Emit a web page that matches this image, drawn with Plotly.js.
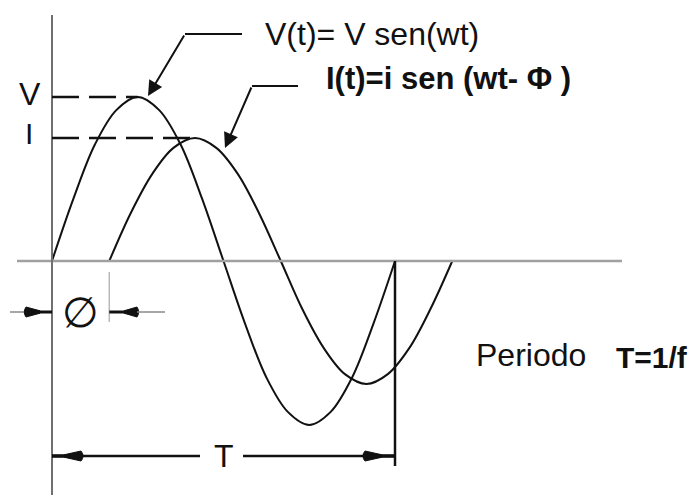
<!DOCTYPE html>
<html><head><meta charset="utf-8">
<script src="https://cdn.plot.ly/plotly-3.0.1.min.js"></script>
<style>html,body{margin:0;padding:0;background:#fff}#chart{width:700px;height:495px}</style>
</head><body><div id="chart"></div>
<script>
// ---- data ----
const seriesNames = ['V(t)= V sen(wt)', 'I(t)=i sen (wt- \u03A6 )'];
const levelLabels = ['V', 'I'];
const periodLabel = 'Periodo';
const periodFormula = 'T=1/f';
const phaseLabel = '\u2205';
const periodSymbol = 'T';
// time in periods, values in units of V
const tV = [0, 0.0625, 0.125, 0.1875, 0.25, 0.3125, 0.375, 0.4375, 0.5, 0.5625, 0.625, 0.6875, 0.75, 0.8125, 0.875, 0.9375, 1.0];
const vV = [0, 0.38, 0.71, 0.92, 1.00, 0.92, 0.71, 0.38, 0, -0.38, -0.71, -0.92, -1.00, -0.92, -0.71, -0.38, 0];
const tI = [0.167, 0.229, 0.292, 0.354, 0.417, 0.479, 0.542, 0.604, 0.667, 0.729, 0.792, 0.854, 0.917, 0.979, 1.042, 1.104, 1.167];
const vI = [0, 0.29, 0.53, 0.69, 0.75, 0.69, 0.53, 0.29, 0, -0.29, -0.53, -0.69, -0.75, -0.69, -0.53, -0.29, 0];
const amplitudes = [1.00, 0.75];
const peakTimes = [0.25, 0.417];
const phaseShift = 0.167;
const period = 1.0;

// ---- pixel <-> data helpers (layout only) ----
const X0 = 52, SX = 343, Y0 = 261, SY = 164;
const px = p => (p - X0) / SX;
const py = p => (Y0 - p) / SY;

const INK = '#111111';
const FONT = 'Liberation Sans, Arial, sans-serif';

const traces = [
  {x: tV, y: vV, name: seriesNames[0], mode: 'lines', line: {color: INK, width: 2, shape: 'spline', smoothing: 1}, hoverinfo: 'skip'},
  {x: tI, y: vI, name: seriesNames[1], mode: 'lines', line: {color: INK, width: 2, shape: 'spline', smoothing: 1}, hoverinfo: 'skip'}
];

function seg(x0, y0, x1, y1, color, width, dash) {
  return {type: 'line', xref: 'x', yref: 'y', x0: x0, y0: y0, x1: x1, y1: y1,
          line: {color: color, width: width, dash: dash || 'solid'}, layer: 'above'};
}
// filled arrowhead: base centred at pixel (bx, byp), tip at pixel (tx, byp)
function head(bx, tx, byp, half) {
  const p = 'M ' + px(bx) + ',' + py(byp - half) +
            ' Q ' + px(bx - (tx - bx) * 0.25) + ',' + py(byp) + ' ' + px(bx) + ',' + py(byp + half) +
            ' L ' + px(tx) + ',' + py(byp + 1.2) + ' L ' + px(tx) + ',' + py(byp - 1.2) + ' Z';
  return {type: 'path', xref: 'x', yref: 'y', path: p, fillcolor: INK, line: {color: INK, width: 1}, layer: 'above'};
}

const yPhiP = 312, yTP = 456;
const yPhi = py(yPhiP), yT = py(yTP);
const shapes = [
  // zero line
  seg(px(17), 0, px(622), 0, '#a0a0a0', 2.5),
  // vertical axis
  seg(0, py(15), 0, py(495), '#707070', 2),
  // level dashed lines
  seg(0, amplitudes[0], peakTimes[0], amplitudes[0], INK, 2.5, '27px,10px'),
  seg(0, amplitudes[1], peakTimes[1], amplitudes[1], INK, 2.5, '27px,10px'),
  // end of period
  seg(period, 0, period, py(466), INK, 2.5),
  // phase extension line
  seg(phaseShift, py(272), phaseShift, py(322), '#b8b8b8', 1.5),
  // phase dimension, left
  seg(px(10), yPhi, px(26), yPhi, '#8a8a8a', 1.5),
  seg(px(36), yPhi, 0, yPhi, INK, 3),
  head(26, 40, yPhiP, 5),
  // phase dimension, right
  seg(phaseShift, yPhi, px(130), yPhi, INK, 3),
  head(137, 124, yPhiP, 5),
  seg(px(137), yPhi, px(165), yPhi, '#8a8a8a', 1.5),
  // period dimension
  seg(0, yT, px(200), yT, INK, 2.5),
  seg(0, yT, px(66), yT, INK, 3.5),
  head(81, 64, yTP, 5),
  seg(px(243), yT, period, yT, INK, 2.5),
  seg(px(378), yT, period, yT, INK, 3.5),
  head(365, 382, yTP, 5),
  // leader horizontals
  seg(px(185), py(34), px(242), py(34), INK, 2),
  seg(px(252), py(86), px(298), py(86), INK, 2)
];

function txt(text, x, y, size, opts) {
  return Object.assign({text: text, x: x, y: y, xref: 'x', yref: 'y', showarrow: false,
    xanchor: 'left', yanchor: 'middle', font: {family: FONT, size: size, color: INK}}, opts || {});
}

const annotations = [
  // leader arrows
  {x: px(148), y: py(96), ax: px(185), ay: py(34), axref: 'x', ayref: 'y', xref: 'x', yref: 'y',
   text: '', showarrow: true, arrowhead: 2, arrowsize: 1.5, arrowwidth: 2, arrowcolor: INK},
  {x: px(225), y: py(148), ax: px(252), ay: py(86), axref: 'x', ayref: 'y', xref: 'x', yref: 'y',
   text: '', showarrow: true, arrowhead: 2, arrowsize: 1.5, arrowwidth: 2, arrowcolor: INK},
  txt(seriesNames[0], px(263), py(34), 32),
  txt('<b>' + seriesNames[1] + '</b>', px(324), py(78), 31),
  txt(levelLabels[0], px(30), amplitudes[0], 32, {xanchor: 'center', yshift: 3}),
  txt(levelLabels[1], px(29), amplitudes[1], 30, {xanchor: 'center', yshift: 5}),
  txt(phaseLabel, phaseShift / 2, yPhi, 42, {xanchor: 'center', font: {family: 'DejaVu Sans, sans-serif', size: 42, color: INK}}),
  txt(periodSymbol, period / 2, yT, 32, {xanchor: 'center'}),
  txt(periodLabel, px(474), py(355), 32),
  txt('<b>' + periodFormula + '</b>', px(614), py(357), 30)
];

const layout = {
  width: 700, height: 495,
  margin: {l: 0, r: 0, t: 0, b: 0, pad: 0},
  paper_bgcolor: '#ffffff', plot_bgcolor: '#ffffff',
  showlegend: false,
  xaxis: {range: [px(0), px(700)], visible: false, fixedrange: true},
  yaxis: {range: [py(495), py(0)], visible: false, fixedrange: true},
  shapes: shapes,
  annotations: annotations
};

Plotly.newPlot('chart', traces, layout, {staticPlot: true, displayModeBar: false});
</script>
</body></html>
